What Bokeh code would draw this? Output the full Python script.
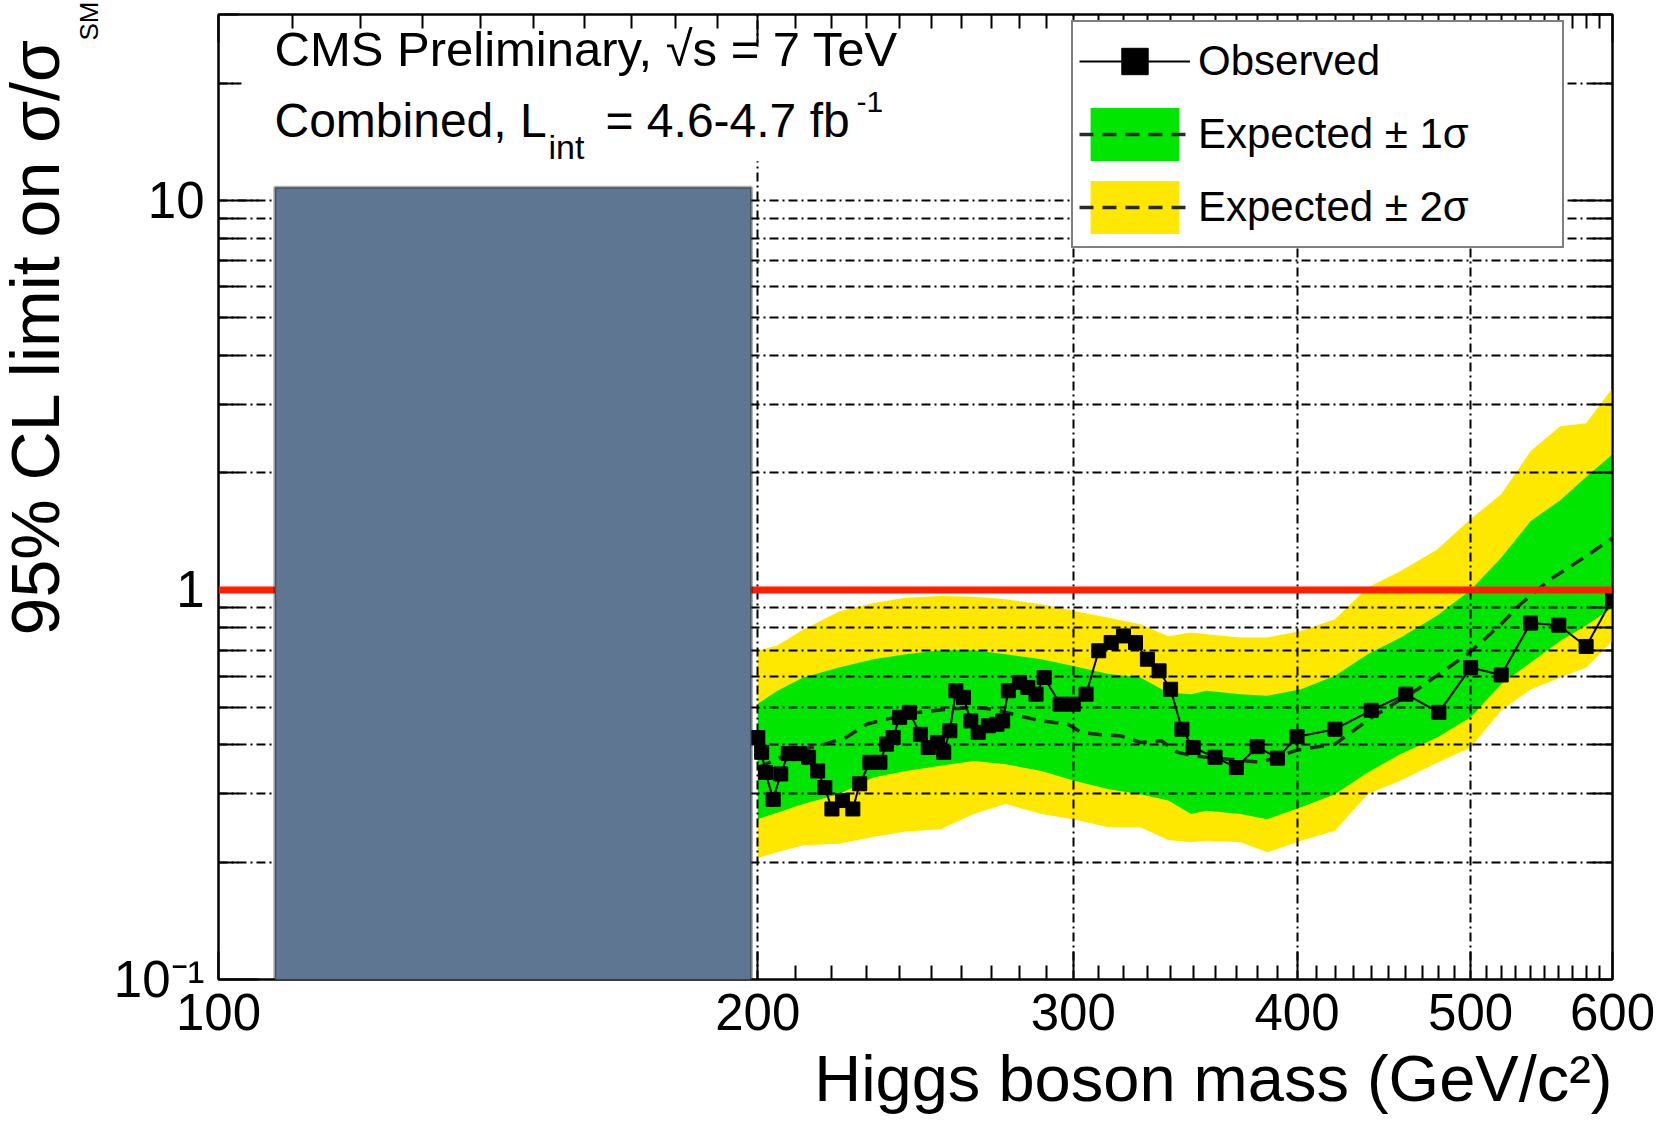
import numpy as np
from bokeh.plotting import figure
from bokeh.models import (FixedTicker, LogAxis, Span, BoxAnnotation, Label,
                          Legend, LegendItem, Title)
from bokeh.embed import file_html
from bokeh.resources import INLINE

# ---------------- data ----------------
obs_mass = [200, 201, 202, 204, 206, 208, 211, 213.5, 216, 218, 220, 223, 226, 228,
            231, 234, 236, 238, 240, 243, 246.5, 249, 252, 254, 256, 258, 260.5, 263,
            265.5, 269, 272, 274, 276, 280, 283, 286, 289, 295, 300, 305, 310, 315,
            320, 325, 330, 335, 340, 345, 350, 360, 370, 380, 390, 400, 420, 440,
            460, 480, 500, 520, 540, 560, 580, 600]
obs_limit = [0.418, 0.383, 0.340, 0.290, 0.337, 0.380, 0.380, 0.372, 0.343, 0.311,
             0.274, 0.288, 0.274, 0.318, 0.361, 0.361, 0.402, 0.418, 0.471, 0.485,
             0.426, 0.394, 0.406, 0.383, 0.435, 0.551, 0.530, 0.461, 0.431, 0.448,
             0.452, 0.461, 0.551, 0.579, 0.562, 0.540, 0.596, 0.509, 0.509, 0.540,
             0.698, 0.733, 0.762, 0.733, 0.664, 0.620, 0.556, 0.439, 0.394, 0.372,
             0.350, 0.396, 0.370, 0.420, 0.439, 0.491, 0.540, 0.485, 0.632, 0.605,
             0.822, 0.812, 0.716, 0.950]

exp_mass = [200, 204, 210, 218, 224, 230, 236, 246, 255, 264, 271, 280, 288, 298,
            303, 311, 319, 327, 336, 343, 350, 360, 370, 382, 400, 420, 440, 467,
            498, 520, 533, 554, 580, 600]
exp_limit = [0.350, 0.364, 0.386, 0.402, 0.418, 0.452, 0.466, 0.485, 0.494, 0.499,
             0.494, 0.475, 0.461, 0.452, 0.431, 0.425, 0.422, 0.406, 0.410, 0.383,
             0.375, 0.370, 0.366, 0.361, 0.388, 0.402, 0.470, 0.556, 0.684, 0.817,
             0.919, 1.065, 1.220, 1.360]

band_mass = [200, 205, 212, 222, 232, 242, 253, 264, 275, 288, 300, 314, 327, 339,
             349, 356, 372, 385, 402, 420, 438, 457, 479, 500, 520, 540, 561, 580, 600]
band_2s_hi = [0.698, 0.720, 0.790, 0.880, 0.925, 0.955, 0.965, 0.960, 0.946, 0.919,
              0.884, 0.849, 0.817, 0.760, 0.777, 0.770, 0.755, 0.755, 0.785, 0.841,
              1.014, 1.119, 1.270, 1.520, 1.760, 2.270, 2.630, 2.680, 3.300]
band_1s_hi = [0.510, 0.550, 0.596, 0.632, 0.664, 0.684, 0.700, 0.700, 0.684, 0.664,
              0.638, 0.608, 0.596, 0.545, 0.540, 0.551, 0.540, 0.535, 0.556, 0.602,
              0.684, 0.755, 0.860, 1.000, 1.210, 1.500, 1.700, 1.950, 2.230]
band_1s_lo = [0.258, 0.268, 0.282, 0.299, 0.330, 0.343, 0.354, 0.364, 0.357, 0.343,
              0.324, 0.308, 0.299, 0.288, 0.266, 0.271, 0.266, 0.258, 0.277, 0.299,
              0.340, 0.379, 0.418, 0.471, 0.573, 0.650, 0.740, 0.810, 0.900]
band_2s_lo = [0.205, 0.212, 0.221, 0.223, 0.232, 0.240, 0.243, 0.266, 0.282, 0.266,
              0.258, 0.246, 0.246, 0.228, 0.225, 0.227, 0.225, 0.212, 0.227, 0.241,
              0.299, 0.324, 0.360, 0.394, 0.490, 0.555, 0.596, 0.632, 0.740]

sm_reference = 1.0
excluded_box = dict(left=107.5, right=198.4, bottom=0.0971, top=10.8)

x_tick_values = [100, 200, 300, 400, 500, 600]
x_tick_labels = ["100", "200", "300", "400", "500", "600"]
y_tick_values = [0.1, 1, 10]
y_tick_labels = ["10\u207b\u00b9", "1", "10"]

legend_labels = ["Observed", "Expected \u00b1 1\u03c3", "Expected \u00b1 2\u03c3"]
x_title = "Higgs boson mass (GeV/c\u00b2)"
y_title = "95% CL limit on \u03c3/\u03c3"
y_title_sub = "SM"

# ---------------- styling ----------------
FONT = "Liberation Sans"
YELLOW = "#ffe800"
GREEN = "#00e600"
GRID_DASH = "9 4 2 4"

x_minor = [v for d in (100, 200, 300, 400, 500) for v in range(d + 10, d + 100, 10)]
y_minor = [k * 0.1 for k in range(2, 10)] + list(range(2, 10)) + [20, 30]

p = figure(width=1668, height=1122, x_axis_type="log", y_axis_type="log",
           x_range=(100, 600), y_range=(0.1, 30),
           output_backend="svg", toolbar_location=None,
           min_border_left=218, min_border_right=56, min_border_top=14,
           min_border_bottom=143)
p.outline_line_color = "black"
p.outline_line_width = 2
p.background_fill_color = "white"
p.border_fill_color = "white"

xt = FixedTicker(ticks=x_tick_values, minor_ticks=x_minor)
yt = FixedTicker(ticks=y_tick_values, minor_ticks=y_minor)

xa = p.xaxis[0]
ya = p.yaxis[0]
xa.ticker = xt
ya.ticker = yt
xa.major_label_overrides = {v: s for v, s in zip(x_tick_values, x_tick_labels)}
ya.major_label_overrides = {v: s for v, s in zip(y_tick_values, y_tick_labels)}
for ax, tin, tmin in ((xa, 28, 14), (ya, 40, 20)):
    ax.major_tick_in = tin
    ax.major_tick_out = 0
    ax.minor_tick_in = tmin
    ax.minor_tick_out = 0
    ax.major_tick_line_color = "black"
    ax.minor_tick_line_color = "black"
    ax.major_tick_line_width = 2
    ax.minor_tick_line_width = 2
    ax.axis_line_color = "black"
    ax.axis_line_width = 2
    ax.major_label_text_font = FONT
    ax.major_label_text_font_size = "51px"
    ax.major_label_text_color = "black"
    ax.major_label_standoff = 14
    ax.axis_label = None

p.xgrid.ticker = xt
p.ygrid.ticker = yt
for g in (p.xgrid, p.ygrid):
    g.grid_line_color = "black"
    g.grid_line_width = 2
    g.grid_line_dash = GRID_DASH
    g.level = "guide"
p.ygrid.minor_grid_line_color = "black"
p.ygrid.minor_grid_line_width = 2
p.ygrid.minor_grid_line_dash = GRID_DASH

# mirror axes (ticks only) on top and right
for loc, tick, tin, tmin in (("above", xt, 28, 14), ("right", yt, 40, 20)):
    a = LogAxis(ticker=tick, major_tick_in=tin, major_tick_out=0,
                minor_tick_in=tmin, minor_tick_out=0,
                major_tick_line_width=2, minor_tick_line_width=2,
                axis_line_width=2, major_label_text_font_size="1px",
                major_label_text_color=None, major_label_standoff=0)
    p.add_layout(a, loc)

# axis titles as side-panel titles
p.add_layout(Title(text=x_title, align="right", text_font=FONT,
                   text_font_size="65px", text_font_style="normal",
                   text_color="black", standoff=14), "below")
p.add_layout(Title(text=y_title_sub, align="right", vertical_align="top",
                   text_font=FONT, text_font_size="26px", text_font_style="normal",
                   text_color="black", standoff=10, offset=-13), "left")
p.add_layout(Title(text=y_title, align="right", vertical_align="top",
                   text_font=FONT, text_font_size="68px", text_font_style="normal",
                   text_color="black", standoff=-13, offset=23), "left")

# ---------------- data renderers ----------------
b2 = p.varea(x=band_mass, y1=band_2s_lo, y2=band_2s_hi, fill_color=YELLOW)
b1 = p.varea(x=band_mass, y1=band_1s_lo, y2=band_1s_hi, fill_color=GREEN)
exp_line = p.line(exp_mass, exp_limit, line_color="#2a2a2a", line_width=3.5,
                  line_dash="14 9")
obs_line = p.line(obs_mass, obs_limit, line_color="black", line_width=2)
obs_pts = p.scatter(obs_mass, obs_limit, marker="square", size=14,
                    fill_color="black", line_color="black")

p.add_layout(Span(location=sm_reference, dimension="width", line_color="#ff1e00",
                  line_width=7))

# white pave behind the header text
p.add_layout(BoxAnnotation(left=103, right=299, bottom=12.6, top=24.8,
                           fill_color="white", fill_alpha=1, line_color=None))
# grey covering rectangle
p.add_layout(BoxAnnotation(fill_color="#5e7691", fill_alpha=1, line_color="black",
                           line_width=3, **excluded_box))

# ---------------- legend ----------------
legend = Legend(items=[LegendItem(label=legend_labels[0], renderers=[obs_line, obs_pts]),
                       LegendItem(label=legend_labels[1], renderers=[b1, exp_line]),
                       LegendItem(label=legend_labels[2], renderers=[b2, exp_line])],
                location=(853, 731), glyph_width=111, glyph_height=66,
                label_standoff=8, spacing=7, padding=6, label_width=358,
                label_text_font=FONT, label_text_font_size="42px",
                label_text_color="black", label_text_baseline="middle",
                border_line_color="black", border_line_width=2,
                background_fill_color="white", background_fill_alpha=1)
p.add_layout(legend)

# ---------------- texts inside the frame ----------------
def lab(x, y, text, size, **kw):
    p.add_layout(Label(x=x, y=y, x_units="screen", y_units="screen", text=text,
                       text_font=FONT, text_font_size=size, text_color="black",
                       text_baseline="alphabetic", **kw))

lab(56, 931, "CMS Preliminary, \u221as = 7 TeV", "49px")
lab(56, 859, "Combined, L", "48px")
lab(330, 833, "int", "34px")
lab(387, 859, "= 4.6-4.7 fb", "48px")
lab(638, 878, "-1", "30px")

open("out.html", "w").write(file_html(p, INLINE))
